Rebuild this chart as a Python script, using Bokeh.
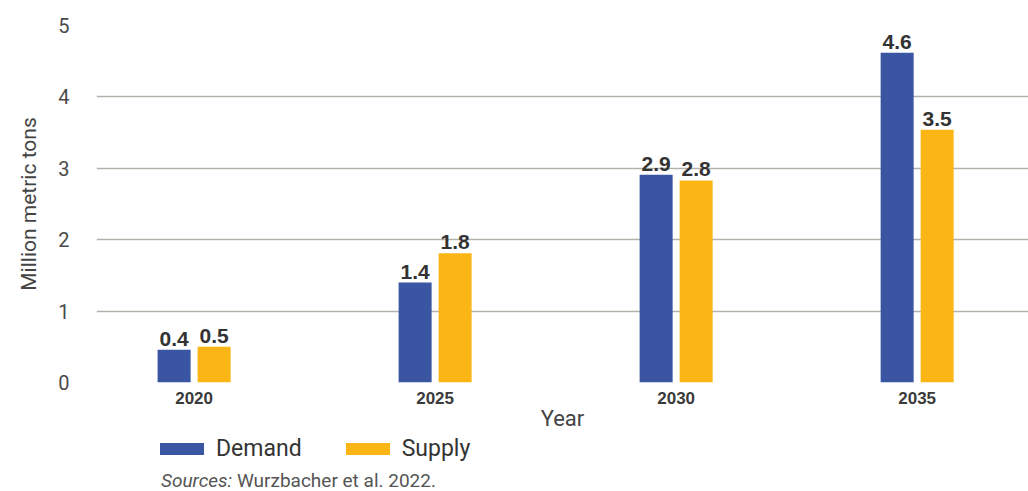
from bokeh.plotting import figure
from bokeh.models import (ColumnDataSource, FixedTicker, Legend, LegendItem, Range1d, Div)
from bokeh.layouts import column
from bokeh.transform import dodge
from bokeh.core.properties import value
from bokeh.embed import file_html
from bokeh.resources import INLINE

# ---- data ----
years = ["2020", "2025", "2030", "2035"]
demand = [0.46, 1.40, 2.91, 4.62]
supply = [0.50, 1.81, 2.83, 3.54]
demand_labels = ["0.4", "1.4", "2.9", "4.6"]
supply_labels = ["0.5", "1.8", "2.8", "3.5"]
series_names = ["Demand", "Supply"]
y_ticks = [0, 1, 2, 3, 4, 5]
source_note = "<i>Sources:</i> Wurzbacher et al. 2022."

BLUE = "#3A56A3"
YELLOW = "#FBB616"

src = ColumnDataSource(dict(
    x=list(range(len(years))), demand=demand, supply=supply,
    dlab=demand_labels, slab=supply_labels,
))

p = figure(width=1028, height=433, output_backend="svg", toolbar_location=None,
           x_range=Range1d(-0.405, 3.462), y_range=Range1d(0, 5),
           min_border_left=96, min_border_right=0, min_border_top=25,
           min_border_bottom=51)
p.outline_line_color = None
p.background_fill_color = "white"
p.border_fill_color = "white"

bw = 0.137
off = 0.083
r1 = p.vbar(x=dodge("x", -off, range=p.x_range), top="demand", width=bw, bottom=0,
            source=src, fill_color=BLUE, line_color=None)
r2 = p.vbar(x=dodge("x", off, range=p.x_range), top="supply", width=bw, bottom=0,
            source=src, fill_color=YELLOW, line_color=None)

p.text(x=dodge("x", -off, range=p.x_range), y="demand", text="dlab", source=src,
       text_align="center", text_baseline="alphabetic", y_offset=-11,
       text_font=value("Liberation Sans"), text_font_style="bold",
       text_font_size="21px", text_color="#333333")
p.text(x=dodge("x", off, range=p.x_range), y="supply", text="slab", source=src,
       text_align="center", text_baseline="alphabetic", y_offset=-11,
       text_font=value("Liberation Sans"), text_font_style="bold",
       text_font_size="21px", text_color="#333333")

# grid
p.xgrid.grid_line_color = None
p.ygrid.ticker = FixedTicker(ticks=y_ticks)
p.ygrid.grid_line_color = "#b2b2aa"
p.ygrid.grid_line_width = 1.5

# y axis
p.yaxis.ticker = FixedTicker(ticks=y_ticks)
p.yaxis.axis_line_color = None
p.yaxis.major_tick_line_color = None
p.yaxis.minor_tick_line_color = None
p.yaxis.major_label_text_font = "Roboto"
p.yaxis.major_label_text_font_size = "20px"
p.yaxis.major_label_text_color = "#4a4a4a"
p.yaxis.major_label_standoff = 21
p.yaxis.axis_label = "Million metric tons"
p.yaxis.axis_label_text_font = "Roboto"
p.yaxis.axis_label_text_font_style = "normal"
p.yaxis.axis_label_text_font_size = "21px"
p.yaxis.axis_label_text_color = "#444444"
p.yaxis.axis_label_standoff = 14

# x axis
p.xaxis.ticker = FixedTicker(ticks=list(range(len(years))))
p.xaxis.major_label_overrides = {i: y for i, y in enumerate(years)}
p.xaxis.axis_line_color = None
p.xaxis.major_tick_line_color = None
p.xaxis.minor_tick_line_color = None
p.xaxis.major_label_text_font = "Liberation Sans"
p.xaxis.major_label_text_font_style = "bold"
p.xaxis.major_label_text_font_size = "17px"
p.xaxis.major_label_text_color = "#3a3a3a"
p.xaxis.major_label_standoff = 3
p.xaxis.axis_label = "Year"
p.xaxis.axis_label_text_font = "Roboto"
p.xaxis.axis_label_text_font_style = "normal"
p.xaxis.axis_label_text_font_size = "22px"
p.xaxis.axis_label_text_color = "#444444"
p.xaxis.axis_label_standoff = -1

# legend strip (separate plot so it is not clipped by the main frame;
# its frame is aligned with the main frame by the column layout)
lg = figure(width=1028, height=37, output_backend="svg", toolbar_location=None,
            x_range=Range1d(10, 11), y_range=Range1d(10, 11),
            x_axis_location=None, y_axis_location=None,
            min_border_left=0, min_border_right=0, min_border_top=0,
            min_border_bottom=0)
lg.outline_line_color = None
lg.xgrid.grid_line_color = None
lg.ygrid.grid_line_color = None
lr1 = lg.vbar(x="x", top="demand", width=bw, source=src, fill_color=BLUE, line_color=None)
lr2 = lg.vbar(x="x", top="supply", width=bw, source=src, fill_color=YELLOW, line_color=None)

legend = Legend(items=[LegendItem(label=series_names[0], renderers=[lr1]),
                       LegendItem(label=series_names[1], renderers=[lr2])],
                orientation="horizontal", location=(58, 8))
legend.padding = 0
legend.margin = 0
legend.border_line_color = None
legend.background_fill_alpha = 0
legend.glyph_width = 55
legend.glyph_height = 15
legend.label_standoff = 7
legend.spacing = 38
legend.label_text_font = "Roboto"
legend.label_text_font_size = "23px"
legend.label_text_color = "#333333"
legend.label_height = 24
legend.click_policy = "none"
lg.add_layout(legend, "center")

note = Div(text=source_note, width=860, height=21, margin=(0, 0, 0, 161),
           styles={"font-family": "Roboto", "font-size": "19px", "color": "#555555",
                   "line-height": "21px", "white-space": "nowrap"})

layout = column(p, lg, note, spacing=0)
open("out.html", "w").write(file_html(layout, INLINE))
